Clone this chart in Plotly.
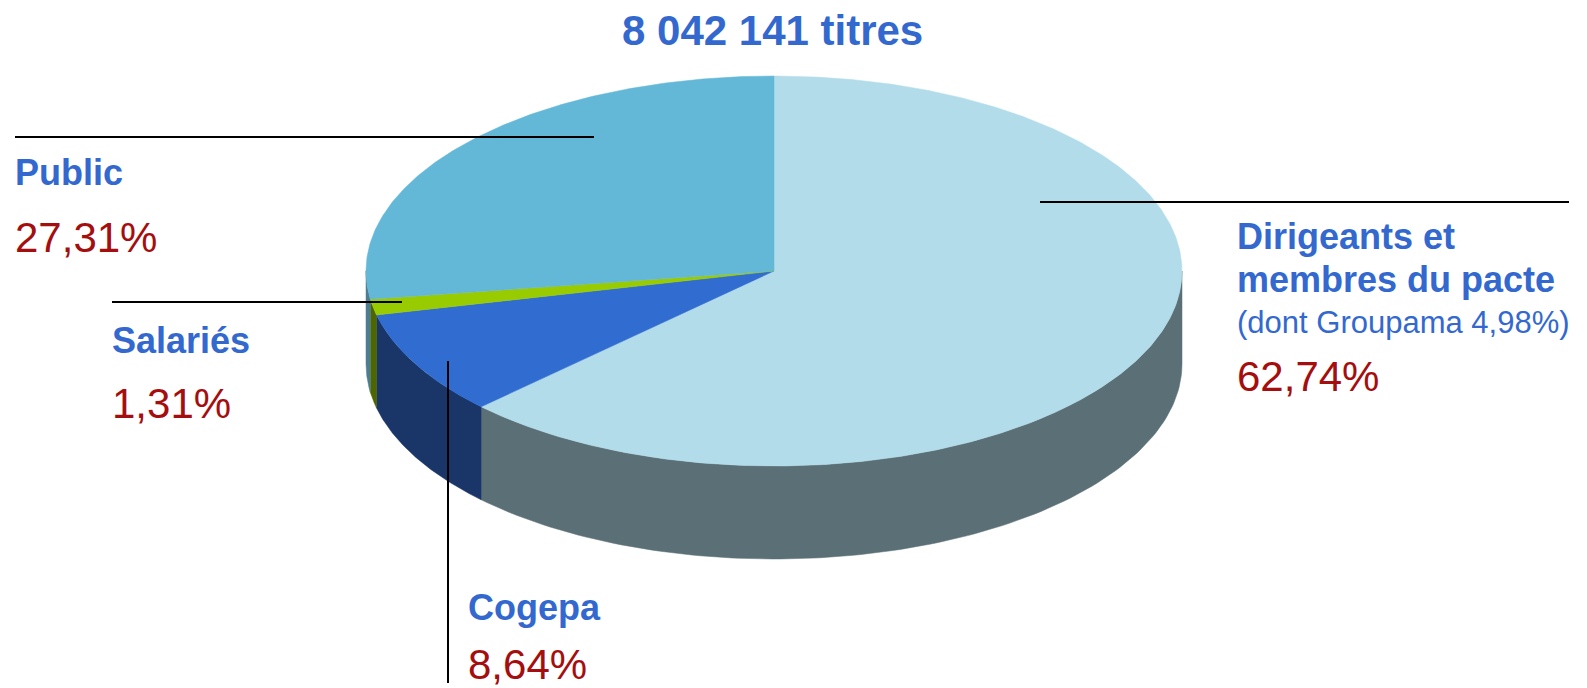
import numpy as np
import plotly.graph_objects as go

# ---- data ----
categories = ["Dirigeants et membres du pacte", "Cogepa", "Salariés", "Public"]
values = [62.74, 8.64, 1.31, 27.31]
total_titres = "8 042 141 titres"
pct_labels = ["62,74%", "8,64%", "1,31%", "27,31%"]
sub_note = "(dont Groupama 4,98%)"

# ---- style ----
top_colors = ["#B3DCEA", "#316CD0", "#99CC00", "#63B7D7"]
side_colors = ["#5B6F76", "#1A3668", "#4D6600", "#4E7D90"]
BLUE = "#3369CF"
RED = "#A50E0E"
FONT = "Liberation Sans, Arial, sans-serif"

W, H = 1587, 688
cx, cy, rx, ry, depth = 774, 271, 408, 195, 93


def pt(theta_deg, dy=0.0):
    t = np.radians(theta_deg)
    return cx + rx * np.sin(t), cy - ry * np.cos(t) + dy


fig = go.Figure()

# cumulative angles (clockwise from 12 o'clock)
tot = sum(values)
bounds = np.concatenate([[0], np.cumsum(values)]) / tot * 360.0

# sides (only front half 90..270 visible)
for i, name in enumerate(categories):
    a, b = bounds[i], bounds[i + 1]
    lo, hi = max(a, 90), min(b, 270)
    if hi <= lo:
        continue
    th = np.linspace(lo, hi, 120)
    xt, yt = pt(th)
    xb, yb = pt(th[::-1], depth)
    xs = np.concatenate([xt, xb, xt[:1]])
    ys = np.concatenate([yt, yb, yt[:1]])
    fig.add_trace(go.Scatter(x=xs, y=ys, mode="lines", fill="toself",
                             fillcolor=side_colors[i],
                             line=dict(color=side_colors[i], width=0.5),
                             hoverinfo="skip", showlegend=False))

# top faces
for i, name in enumerate(categories):
    a, b = bounds[i], bounds[i + 1]
    th = np.linspace(a, b, max(int((b - a) * 2), 8))
    xa, ya = pt(th)
    xs = np.concatenate([[cx], xa, [cx]])
    ys = np.concatenate([[cy], ya, [cy]])
    fig.add_trace(go.Scatter(x=xs, y=ys, mode="lines", fill="toself",
                             fillcolor=top_colors[i],
                             line=dict(color=top_colors[i], width=0.5),
                             name=name, hoverinfo="name", showlegend=False))

# leader lines
lines = [
    (1040, 202, 1569, 202),   # Dirigeants
    (448, 361, 448, 683),     # Cogepa
    (112, 302, 402, 302),     # Salariés
    (15, 137, 594, 137),      # Public
]
for x0, y0, x1, y1 in lines:
    fig.add_shape(type="line", xref="x", yref="y", x0=x0, y0=y0, x1=x1, y1=y1,
                  line=dict(color="black", width=2))


def ann(x, y, text, size, color, bold=False, xanchor="left"):
    fig.add_annotation(x=x, y=y, xref="x", yref="y", text=f"<b>{text}</b>" if bold else text,
                       showarrow=False, xanchor=xanchor, yanchor="middle", borderpad=0,
                       font=dict(family=FONT, size=size, color=color))


ann(772, 30, total_titres, 42, BLUE, bold=True, xanchor="center")

# Public
ann(14, 172, "Public", 36, BLUE, bold=True)
ann(14, 237, pct_labels[3], 42, RED)
# Salariés
ann(111, 340, "Salariés", 36, BLUE, bold=True)
ann(111, 403, pct_labels[2], 42, RED)
# Cogepa
ann(467, 607, "Cogepa", 36, BLUE, bold=True)
ann(467, 664, pct_labels[1], 42, RED)
# Dirigeants
ann(1236, 236, "Dirigeants et", 36, BLUE, bold=True)
ann(1236, 279, "membres du pacte", 36, BLUE, bold=True)
ann(1236, 322, sub_note, 31, BLUE)
ann(1236, 376, pct_labels[0], 42, RED)

fig.update_xaxes(range=[0, W], visible=False, fixedrange=True)
fig.update_yaxes(range=[H, 0], visible=False, fixedrange=True)
fig.update_layout(width=W, height=H, margin=dict(l=0, r=0, t=0, b=0),
                  plot_bgcolor="white", paper_bgcolor="white")

fig.write_html("out.html", config={"displayModeBar": False},
               post_script="document.body.style.margin='0';document.body.style.overflow='hidden';")
